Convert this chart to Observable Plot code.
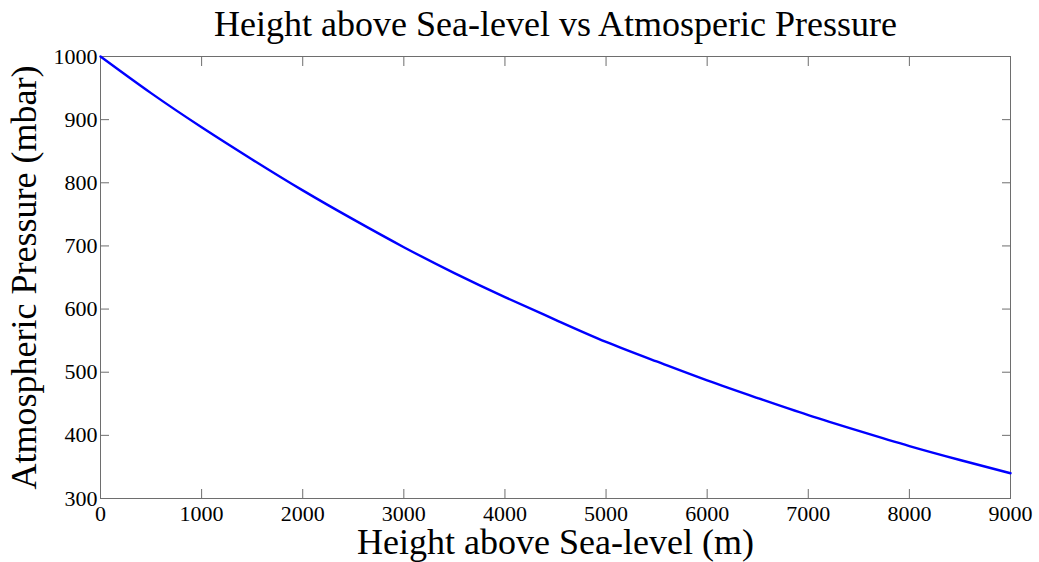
<!DOCTYPE html>
<html>
<head>
<meta charset="utf-8">
<script src="https://cdn.jsdelivr.net/npm/d3@7"></script>
<script src="https://cdn.jsdelivr.net/npm/@observablehq/plot@0.6"></script>
<style>
  html, body { margin: 0; padding: 0; background: #fff; }
  #chart svg { display: block; }
</style>
</head>
<body>
<div id="chart"></div>
<script>
// Data
const heights   = [0, 500, 1000, 1500, 2000, 2500, 3000, 3500, 4000, 4500, 5000, 5500, 6000, 6500, 7000, 7500, 8000, 8500, 9000];
const pressures = [1000, 942, 888, 837, 788, 742, 698, 657, 619, 583, 548, 517, 487, 459, 432, 407, 383, 361, 340];
const xTicks = [0, 1000, 2000, 3000, 4000, 5000, 6000, 7000, 8000, 9000];
const yTicks = [300, 400, 500, 600, 700, 800, 900, 1000];
const titleText = "Height above Sea-level vs Atmosperic Pressure";
const xLabelText = "Height above Sea-level (m)";
const yLabelText = "Atmospheric Pressure (mbar)";

const rows = heights.map((h, i) => ({h, p: pressures[i]}));
const font = "'Liberation Serif', 'Times New Roman', Times, serif";
const axisGray = "#6e6e6e";
const plain = d3.format("d");

const chart = Plot.plot({
  width: 1039,
  height: 562,
  marginLeft: 100,
  marginRight: 29,
  marginTop: 56,
  marginBottom: 64,
  style: {fontFamily: font, fontSize: "22px", color: "black", background: "white"},
  x: {domain: [0, 9000], label: null},
  y: {domain: [300, 1000], label: null},
  marks: [
    Plot.frame({stroke: axisGray, strokeWidth: 1}),
    // inward ticks on all four sides
    Plot.axisX(xTicks, {anchor: "bottom", tickSize: -9, tickFormat: () => "", stroke: axisGray, label: null}),
    Plot.axisX(xTicks, {anchor: "top", tickSize: -9, tickFormat: () => "", stroke: axisGray, label: null}),
    Plot.axisY(yTicks, {anchor: "left", tickSize: -9, tickFormat: () => "", stroke: axisGray, label: null}),
    Plot.axisY(yTicks, {anchor: "right", tickSize: -9, tickFormat: () => "", stroke: axisGray, label: null}),
    // tick labels
    Plot.axisX(xTicks, {anchor: "bottom", tickSize: 0, tickPadding: 7, tickFormat: plain, fontSize: 22, fill: "black", label: null}),
    Plot.axisY(yTicks, {anchor: "left", tickSize: 0, tickPadding: 3, tickFormat: plain, fontSize: 22, fill: "black", label: null}),
    // the curve
    Plot.line(rows, {x: "h", y: "p", stroke: "#0000ff", strokeWidth: 2.4, curve: "natural"}),
    // title and axis labels
    Plot.text([titleText], {frameAnchor: "top", dy: -21, lineAnchor: "bottom", fontSize: 36, fill: "black", text: d => d}),
    Plot.text([xLabelText], {frameAnchor: "bottom", dy: 55, lineAnchor: "bottom", fontSize: 36, fill: "black", text: d => d}),
    Plot.text([yLabelText], {frameAnchor: "left", dx: -65, rotate: -90, textAnchor: "middle", lineAnchor: "bottom", fontSize: 36, fill: "black", text: d => d})
  ]
});
document.getElementById("chart").append(chart);
</script>
</body>
</html>
